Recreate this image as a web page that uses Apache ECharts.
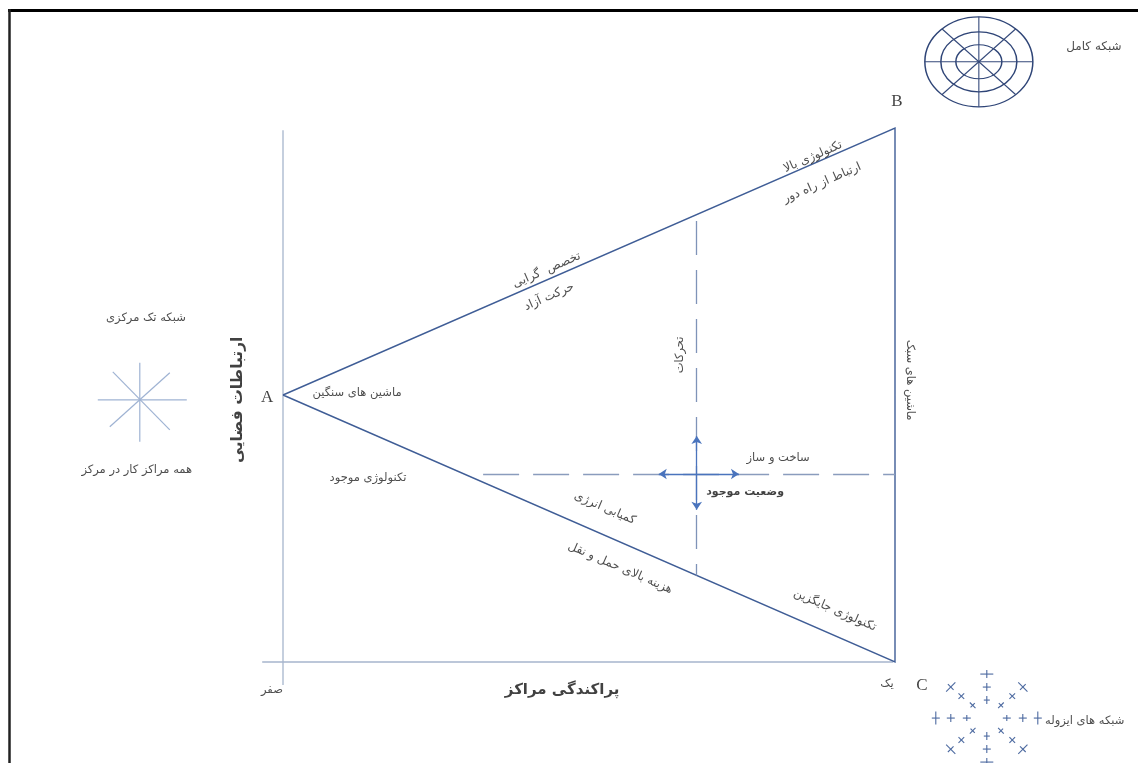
<!DOCTYPE html>
<html><head><meta charset="utf-8">
<script src="https://cdn.jsdelivr.net/npm/echarts@6/dist/echarts.min.js"></script>
<style>html,body{margin:0;padding:0;background:#fff}#c{width:1138px;height:763px}</style>
</head><body><div id="c"></div>
<script>
// Concept diagram: x = dispersion of centres (0 = صفر, 1 = یک), y = spatial connectivity (0..1)
const vertexNames = ['A', 'B', 'C'];
const vertexPoints = [[0, 0.5], [1, 1], [1, 0]];
const xAxisLine = [[-0.034, 0], [0.997, 0]];
const yAxisLine = [[0, 0.996], [0, -0.043]];
const currentState = [0.676, 0.352];
const movementTips = [[0.676, 0.423], [0.676, 0.285], [0.614, 0.352], [0.745, 0.352]];
const constructionLineStartX = 0.327;

const labelTexts = [
  'تکنولوژی بالا', 'ارتباط از راه دور', 'تخصص  گرایی', 'حرکت آزاد',
  'ماشین های سنگین', 'تکنولوژی موجود', 'ساخت و ساز', 'وضعیت موجود',
  'کمیابی انرژی', 'هزینه بالای حمل و نقل', 'تکنولوژی جایگزین', 'تحرکات',
  'ماشین های سبک', 'B', 'A', 'C', 'یک', 'صفر', 'پراکندگی مراکز',
  'ارتباطات فضایی', 'شبکه کامل', 'شبکه تک مرکزی', 'همه مراکز کار در مرکز', 'شبکه های ایزوله'
];
const labelAnchors = [
  [0.866, 0.946], [0.881, 0.897], [0.431, 0.734], [0.435, 0.684],
  [0.121, 0.504], [0.139, 0.345], [0.809, 0.382], [0.755, 0.318],
  [0.526, 0.288], [0.551, 0.176], [0.902, 0.097], [0.649, 0.575],
  [1.025, 0.528], [1.003, 1.049], [-0.026, 0.496], [1.044, -0.045], [0.987, -0.041], [-0.018, -0.052], [0.456, -0.052],
  [-0.074, 0.491], [1.325, 1.152], [-0.224, 0.644], [-0.239, 0.360], [1.310, -0.110]
];
const hubCenter = [[-0.234, 0.491]];
const fullNetCenter = [[1.137, 1.124]];
const isolatedCenter = [[1.150, -0.105]];

// ---- styles (kept apart from the data) ----
const FA = 'DejaVu Sans';
const SERIF = 'Liberation Serif';
const up = 23.5, down = -23.5;
const edge = 12;
const labelStyles = [
  {rotate: up, fontSize: edge}, {rotate: up, fontSize: edge}, {rotate: up, fontSize: edge}, {rotate: up, fontSize: edge},
  {}, {}, {}, {fontWeight: 'bold', fontSize: 11, color: '#111'},
  {rotate: down, fontSize: edge}, {rotate: down, fontSize: edge}, {rotate: down, fontSize: edge}, {rotate: 90},
  {rotate: -90}, {fontFamily: SERIF, fontSize: 17, color: '#111'}, {fontFamily: SERIF, fontSize: 17, color: '#111'},
  {fontFamily: SERIF, fontSize: 17, color: '#111'}, {}, {}, {fontWeight: 'bold', fontSize: 15, color: '#111'},
  {rotate: 90, fontWeight: 'bold', fontSize: 15.5, color: '#111'}, {fontSize: 12}, {}, {}, {}
];

const A = vertexPoints[0], B = vertexPoints[1], C = vertexPoints[2];
function edgeY(p, q, x) { return p[1] + (q[1] - p[1]) * (x - p[0]) / (q[0] - p[0]); }
const sx = currentState[0], sy = currentState[1];

function renderHub(params, api) {
  const c = api.coord([api.value(0), api.value(1)]);
  const spokes = [[-42, 0, 47, 0], [0, -37, 0, 42], [-27, -28, 30, 30], [30, -27, -30, 27]];
  return {type: 'group', children: spokes.map(s => ({
    type: 'line', shape: {x1: c[0] + s[0], y1: c[1] + s[1], x2: c[0] + s[2], y2: c[1] + s[3]},
    style: {stroke: '#9fb3d3', lineWidth: 1.2}
  }))};
}
function renderFullNet(params, api) {
  const c = api.coord([api.value(0), api.value(1)]);
  const rings = [[54, 45], [38, 30], [23, 17]];
  const st = {stroke: '#2f4577', lineWidth: 1.5, fill: null};
  const children = rings.map(r => ({type: 'circle', x: c[0], y: c[1], scaleY: r[1] / r[0],
    shape: {cx: 0, cy: 0, r: r[0]}, style: Object.assign({}, st)}));
  const spokes = [[-54, 0, 54, 0], [0, -45, 0, 45], [-37, -33, 37, 33], [37, -33, -37, 33]];
  spokes.forEach(s => children.push({type: 'line',
    shape: {x1: c[0] + s[0], y1: c[1] + s[1], x2: c[0] + s[2], y2: c[1] + s[3]}, style: {stroke: '#34497a', lineWidth: 1.1}}));
  return {type: 'group', children};
}
function renderIsolated(params, api) {
  const c = api.coord([api.value(0), api.value(1)]);
  const rx = [20, 36, 51], ry = [18, 31, 44], perp = [6, 8, 13];
  const children = [];
  for (let k = 0; k < 8; k++) {
    const a = k * Math.PI / 4, dx = Math.cos(a), dy = Math.sin(a);
    for (let i = 0; i < 3; i++) {
      const px = c[0] + rx[i] * dx, py = c[1] + ry[i] * dy;
      children.push({type: 'line', shape: {x1: px - 4 * dx, y1: py - 4 * dy, x2: px + 4 * dx, y2: py + 4 * dy},
        style: {stroke: '#4d6aa0', lineWidth: 1.1}});
      const h = perp[i] / 2;
      children.push({type: 'line', shape: {x1: px + h * dy, y1: py - h * dx, x2: px - h * dy, y2: py + h * dx},
        style: {stroke: '#4d6aa0', lineWidth: 1.1}});
    }
  }
  return {type: 'group', children};
}

const chart = echarts.init(document.getElementById('c'));
chart.setOption({
  animation: false,
  backgroundColor: '#fff',
  grid: {left: 283, right: 243, top: 128, bottom: 101, containLabel: false},
  xAxis: {type: 'value', min: 0, max: 1, show: false},
  yAxis: {type: 'value', min: 0, max: 1, show: false},
  graphic: [
    {type: 'line', shape: {x1: 8, y1: 10.5, x2: 1138, y2: 10.5}, style: {stroke: '#000', lineWidth: 3}},
    {type: 'line', shape: {x1: 9.5, y1: 9, x2: 9.5, y2: 763}, style: {stroke: '#222', lineWidth: 2.5}}
  ],
  series: [
    {type: 'lines', coordinateSystem: 'cartesian2d', polyline: true, clip: false, silent: true,
     lineStyle: {color: '#a6b5cd', width: 1.3, opacity: 1},
     data: [{coords: xAxisLine}, {coords: yAxisLine}]},
    {type: 'lines', coordinateSystem: 'cartesian2d', polyline: true, clip: false, silent: true,
     lineStyle: {color: '#3f5d96', width: 1.4, opacity: 1},
     data: [{coords: [A, B, C, A]}]},
    {type: 'lines', coordinateSystem: 'cartesian2d', clip: false, silent: true,
     lineStyle: {color: '#7f93b8', width: 1.3, opacity: 1, type: [34, 15]},
     data: [{coords: [[sx, edgeY(A, B, sx) - 0.012], [sx, edgeY(A, C, sx)]]}]},
    {type: 'lines', coordinateSystem: 'cartesian2d', clip: false, silent: true,
     lineStyle: {color: '#8a9cbd', width: 1.3, opacity: 1, type: [36, 14]},
     data: [{coords: [[constructionLineStartX, sy], [C[0], sy]]}]},
    {type: 'lines', coordinateSystem: 'cartesian2d', clip: false, silent: true,
     symbol: ['none', 'arrow'], symbolSize: 8,
     lineStyle: {color: '#4a74bd', width: 1.3, opacity: 1},
     data: movementTips.map(t => ({coords: [currentState, t]}))},
    {type: 'custom', coordinateSystem: 'cartesian2d', silent: true, clip: false,
     renderItem: renderHub, data: hubCenter},
    {type: 'custom', coordinateSystem: 'cartesian2d', silent: true, clip: false,
     renderItem: renderFullNet, data: fullNetCenter},
    {type: 'custom', coordinateSystem: 'cartesian2d', silent: true, clip: false,
     renderItem: renderIsolated, data: isolatedCenter},
    {type: 'scatter', silent: true, clip: false, symbolSize: 0,
     itemStyle: {color: 'transparent'},
     label: {show: true, position: 'inside', formatter: '{b}', color: '#222',
             fontFamily: FA, fontSize: 11.5, align: 'center', verticalAlign: 'middle'},
     data: labelTexts.map((t, i) => ({name: t, value: labelAnchors[i], label: labelStyles[i]}))}
  ]
});
</script>
</body></html>
